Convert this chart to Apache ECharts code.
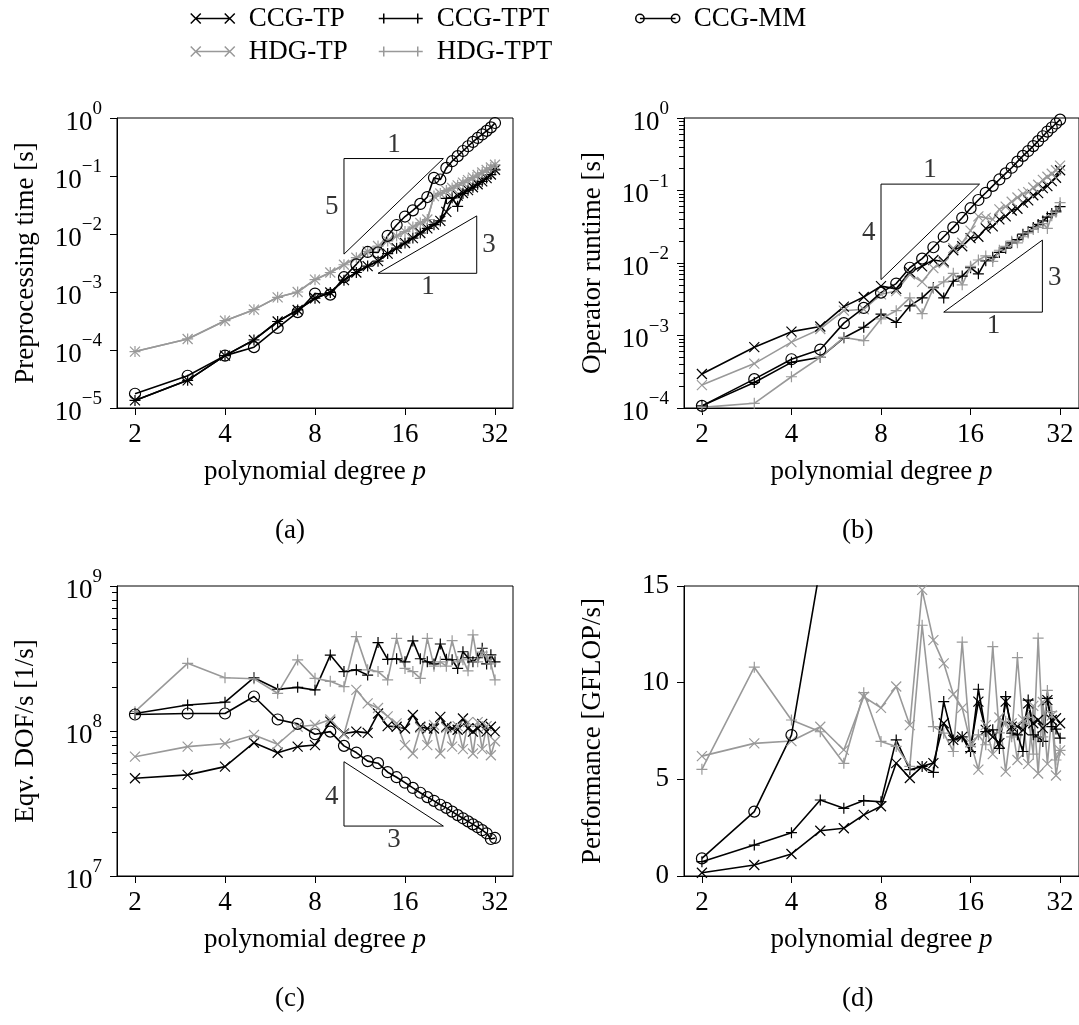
<!DOCTYPE html>
<html>
<head>
<meta charset="utf-8">
<title>Polynomial degree study</title>
<script src="https://cdn.jsdelivr.net/npm/echarts@6/dist/echarts.min.js"></script>
<style>
  html, body { margin: 0; padding: 0; background: #fff; }
  #chart { width: 1079px; height: 1025px; }
</style>
</head>
<body>
<div id="chart"></div>
<script>
// polynomial degrees on the x axis
var degrees = [2, 3, 4, 5, 6, 7, 8, 9, 10, 11, 12, 13, 14, 15, 16, 17, 18, 19, 20,
  21, 22, 23, 24, 25, 26, 27, 28, 29, 30, 31, 32];
var xTicks = [2, 4, 8, 16, 32];

// (a) preprocessing time [s]
var aCcgTp = [1.35e-5, 3.0e-5, 8.0e-5, 1.49e-4, 3.1e-4, 4.9e-4, 7.8e-4, 9.8e-4, 1.6e-3, 2.17e-3, 2.8e-3,
  3.4e-3, 4.6e-3, 5.7e-3, 7.0e-3, 8.5e-3, 1.04e-2, 1.25e-2, 1.45e-2, 1.68e-2, 2.4e-2, 4.0e-2, 4.6e-2,
  5.1e-2, 5.7e-2, 6.4e-2, 7.2e-2, 8.1e-2, 9.2e-2, 0.106, 0.128];
var aHdgTp = [9.4e-5, 1.55e-4, 3.2e-4, 4.96e-4, 8.1e-4, 1.0e-3, 1.63e-3, 2.17e-3, 2.95e-3, 3.9e-3, 5.0e-3,
  6.2e-3, 7.6e-3, 9.2e-3, 1.1e-2, 1.32e-2, 1.55e-2, 1.78e-2, 4.5e-2, 5.0e-2, 5.6e-2, 6.2e-2, 6.9e-2,
  7.7e-2, 8.5e-2, 9.4e-2, 0.104, 0.115, 0.127, 0.14, 0.156];
var aCcgTpt = [1.35e-5, 3.0e-5, 8.0e-5, 1.49e-4, 3.1e-4, 4.9e-4, 7.8e-4, 9.8e-4, 1.6e-3, 2.17e-3, 2.8e-3,
  3.4e-3, 4.6e-3, 5.7e-3, 7.0e-3, 8.5e-3, 1.04e-2, 1.25e-2, 1.45e-2, 1.68e-2, 4.1e-2, 4.2e-2, 3.0e-2,
  5.0e-2, 5.7e-2, 6.4e-2, 7.2e-2, 8.1e-2, 9.2e-2, 0.106, 0.128];
var aHdgTpt = [9.4e-5, 1.55e-4, 3.2e-4, 4.96e-4, 8.1e-4, 1.0e-3, 1.63e-3, 2.17e-3, 2.95e-3, 3.9e-3, 5.0e-3,
  6.2e-3, 7.6e-3, 9.2e-3, 1.1e-2, 1.32e-2, 1.55e-2, 1.78e-2, 4.5e-2, 5.0e-2, 5.6e-2, 6.2e-2, 6.9e-2,
  7.7e-2, 8.5e-2, 9.4e-2, 0.104, 0.115, 0.127, 0.14, 0.156];
var aCcgMm = [1.76e-5, 3.6e-5, 8.0e-5, 1.12e-4, 2.4e-4, 4.5e-4, 9.4e-4, 9.0e-4, 1.8e-3, 3.0e-3, 4.9e-3,
  4.8e-3, 9.3e-3, 1.43e-2, 2.0e-2, 2.56e-2, 3.3e-2, 4.34e-2, 9.3e-2, 8.7e-2, 0.138, 0.18, 0.22,
  0.27, 0.326, 0.387, 0.453, 0.52, 0.6, 0.69, 0.82];

// (b) operator runtime [s]
var bCcgTp = [2.94e-4, 6.9e-4, 1.13e-3, 1.33e-3, 2.5e-3, 3.4e-3, 4.8e-3, 4.4e-3, 7.5e-3, 9.0e-3, 1.1e-2,
  1.05e-2, 1.5e-2, 1.7e-2, 2.2e-2, 2.3e-2, 3.0e-2, 3.2e-2, 4.0e-2, 4.4e-2, 5.3e-2, 5.6e-2, 6.8e-2,
  7.3e-2, 8.6e-2, 9.2e-2, 0.108, 0.115, 0.135, 0.15, 0.19];
var bHdgTp = [2.07e-4, 4.1e-4, 8.1e-4, 1.23e-3, 2.2e-3, 2.3e-3, 3.7e-3, 4.1e-3, 7.0e-3, 5.5e-3, 8.5e-3,
  1.0e-2, 1.6e-2, 1.9e-2, 2.8e-2, 4.4e-2, 4.2e-2, 4.0e-2, 5.5e-2, 6.0e-2, 7.0e-2, 8.0e-2, 9.0e-2,
  9.5e-2, 0.11, 0.12, 0.14, 0.155, 0.17, 0.19, 0.22];
var bCcgTpt = [1.07e-4, 2.25e-4, 4.26e-4, 5.0e-4, 9.3e-4, 1.3e-3, 1.97e-3, 1.51e-3, 2.56e-3, 3.3e-3, 4.6e-3,
  3.3e-3, 5.6e-3, 6.6e-3, 8.6e-3, 7.1e-3, 1.07e-2, 1.2e-2, 1.4e-2, 1.6e-2, 1.9e-2, 2.1e-2, 2.5e-2,
  2.7e-2, 3.1e-2, 3.4e-2, 3.8e-2, 4.3e-2, 4.8e-2, 5.2e-2, 6.0e-2];
var bHdgTpt = [1.02e-4, 1.16e-4, 2.7e-4, 5.0e-4, 9.4e-4, 8.5e-4, 1.7e-3, 2.2e-3, 3.3e-3, 2.0e-3, 4.5e-3,
  5.5e-3, 7.2e-3, 5.0e-3, 9.0e-3, 1.1e-2, 1.25e-2, 1.05e-2, 1.5e-2, 1.7e-2, 2.0e-2, 1.9e-2, 2.3e-2,
  2.6e-2, 2.9e-2, 3.1e-2, 3.5e-2, 3.0e-2, 4.5e-2, 5.0e-2, 6.8e-2];
var bCcgMm = [1.07e-4, 2.5e-4, 4.7e-4, 6.4e-4, 1.48e-3, 2.4e-3, 3.9e-3, 5.2e-3, 8.6e-3, 1.15e-2, 1.65e-2,
  2.3e-2, 3.1e-2, 4.2e-2, 5.7e-2, 7.4e-2, 9.3e-2, 0.116, 0.142, 0.172, 0.206, 0.25, 0.30,
  0.35, 0.41, 0.48, 0.56, 0.65, 0.74, 0.84, 0.95];

// (c) equivalent DOF/s [1/s]
var cCcgTp = [4.72e7, 4.98e7, 5.68e7, 8.3e7, 7.08e7, 7.8e7, 8.0e7, 1.16e8, 9.6e7, 9.9e7, 9.7e7,
  1.32e8, 1.08e8, 1.07e8, 1.04e8, 1.29e8, 1.07e8, 1.04e8, 1.04e8, 1.25e8, 1.07e8, 1.04e8, 1.02e8,
  1.22e8, 1.04e8, 9.9e7, 1.04e8, 1.12e8, 9.9e7, 1.07e8, 9.9e7];
var cHdgTp = [6.65e7, 7.8e7, 8.2e7, 9.4e7, 8.1e7, 1.07e8, 1.1e8, 1.2e8, 9.5e7, 1.92e8, 1.55e8,
  1.44e8, 1.26e8, 1.13e8, 8.0e7, 7.0e7, 1.05e8, 8.0e7, 1.1e8, 7.0e7, 1.05e8, 7.8e7, 1.08e8,
  7.5e7, 1.15e8, 7.0e7, 1.15e8, 7.5e7, 1.08e8, 6.8e7, 8.5e7];
var cCcgTpt = [1.32e8, 1.51e8, 1.58e8, 2.33e8, 1.94e8, 2.0e8, 1.92e8, 3.34e8, 2.57e8, 2.64e8, 2.43e8,
  4.07e8, 3.12e8, 3.15e8, 3.0e8, 4.18e8, 3.15e8, 3.0e8, 2.9e8, 3.98e8, 3.12e8, 3.1e8, 2.7e8,
  3.52e8, 3.2e8, 3.0e8, 3.2e8, 3.72e8, 2.9e8, 3.35e8, 3.0e8];
var cHdgTpt = [1.36e8, 2.93e8, 2.33e8, 2.29e8, 1.82e8, 3.09e8, 2.31e8, 2.2e8, 2.02e8, 4.47e8, 2.64e8,
  2.57e8, 2.25e8, 4.35e8, 2.7e8, 2.57e8, 2.31e8, 4.35e8, 2.8e8, 3.0e8, 2.8e8, 4.2e8, 3.0e8,
  3.1e8, 2.6e8, 4.6e8, 3.0e8, 3.5e8, 3.3e8, 2.9e8, 2.25e8];
var cCcgMm = [1.30e8, 1.32e8, 1.32e8, 1.73e8, 1.2e8, 1.12e8, 9.5e7, 9.9e7, 7.9e7, 7.1e7, 6.2e7,
  6.0e7, 5.2e7, 4.8e7, 4.4e7, 4.05e7, 3.75e7, 3.5e7, 3.3e7, 3.1e7, 2.95e7, 2.78e7, 2.63e7,
  2.5e7, 2.38e7, 2.27e7, 2.17e7, 2.07e7, 1.97e7, 1.8e7, 1.83e7];

// (d) performance [GFLOP/s]
var dCcgTp = [0.17, 0.57, 1.14, 2.34, 2.47, 3.16, 3.61, 5.84, 5.07, 5.67, 5.84, 7.9, 7.04, 7.2, 6.6,
  9.02, 7.56, 7.2, 6.87, 9.02, 7.73, 7.73, 7.56, 8.93, 7.9, 8.07, 7.65, 9.1, 8.07, 8.16, 7.9];
var dHdgTp = [6.2, 6.86, 6.98, 7.72, 6.52, 9.27, 8.7, 9.8, 7.8, 14.8, 12.2, 11.0, 9.4, 8.7, 6.9,
  5.5, 7.8, 6.3, 8.2, 5.4, 7.9, 6.0, 8.1, 5.8, 8.8, 5.3, 9.0, 5.8, 8.3, 5.2, 6.5];
var dCcgTpt = [0.74, 1.6, 2.24, 3.93, 3.5, 3.9, 3.84, 7.04, 5.5, 5.67, 5.36, 9.02, 7.04, 7.2, 6.44,
  9.66, 7.47, 7.56, 6.6, 9.28, 7.39, 7.3, 6.44, 9.1, 7.3, 7.2, 6.96, 9.19, 7.73, 7.6, 7.13];
var dHdgTpt = [5.52, 10.8, 8.07, 7.46, 5.83, 9.48, 6.96, 6.7, 5.67, 12.97, 7.73, 7.39, 6.44, 12.1, 6.7,
  7.3, 6.79, 11.86, 7.4, 8.0, 7.2, 11.3, 7.9, 8.2, 6.3, 12.3, 7.2, 9.6, 8.5, 6.0, 6.5];
var dCcgMm = [0.91, 3.33, 7.29, 16.0];

// slope triangles (corner points in data units) and their labels
var triA1 = [[10, 0.0045], [10, 0.2], [21.5, 0.2], [10, 0.0045]];
var triA2 = [[13, 0.0021], [27.8, 0.0021], [27.8, 0.0205], [13, 0.0021]];
var triB1 = [[8, 0.0059], [8, 0.1225], [17.15, 0.1225], [8, 0.0059]];
var triB2 = [[13, 0.0021], [27.9, 0.0021], [27.9, 0.0207], [13, 0.0021]];
var triC = [[10, 6.14e7], [10, 2.21e7], [21.5, 2.21e7], [10, 6.14e7]];
var triLabelsA = [[14.7, 0.2, '1', 'top'], [10, 0.029, '5', 'left'], [27.8, 0.0065, '3', 'right'], [19.1, 0.0021, '1', 'bottom']];
var triLabelsB = [[11.7, 0.1225, '1', 'top'], [8, 0.0257, '4', 'left'], [27.9, 0.0063, '3', 'right'], [19.1, 0.0021, '1', 'bottom']];
var triLabelsC = [[10, 3.5e7, '4', 'left'], [14.7, 2.21e7, '3', 'bottom']];

var FONT = 'Liberation Serif';
var FS = 27;
var GRAY = '#999999';
var X_PATH = 'path://M0,0L10,10M0,10L10,0';
var PLUS_PATH = 'path://M5,0L5,10M0,5L10,5';
var X_ICON = 'path://M0,0L10,10M0,10L10,0M5,5L39,5M34,0L44,10M34,10L44,0';
var PLUS_ICON = 'path://M5,0L5,10M0,5L44,5M39,0L39,10';
var MM_ICON = 'path://M1,5A4,4,0,1,1,9,5A4,4,0,1,1,1,5ZM5,5L39,5M35,5A4,4,0,1,1,43,5A4,4,0,1,1,35,5Z';

var seriesDefs = [
  {name: 'CCG-TP', color: '#000', symbol: X_PATH, size: 10, icon: X_ICON},
  {name: 'HDG-TP', color: GRAY, symbol: X_PATH, size: 10, icon: X_ICON},
  {name: 'CCG-TPT', color: '#000', symbol: PLUS_PATH, size: 11, icon: PLUS_ICON},
  {name: 'HDG-TPT', color: GRAY, symbol: PLUS_PATH, size: 11, icon: PLUS_ICON},
  {name: 'CCG-MM', color: '#000', symbol: 'circle', size: 11, icon: MM_ICON}
];
var panels = [
  [aCcgTp, aHdgTp, aCcgTpt, aHdgTpt, aCcgMm],
  [bCcgTp, bHdgTp, bCcgTpt, bHdgTpt, bCcgMm],
  [cCcgTp, cHdgTp, cCcgTpt, cHdgTpt, cCcgMm],
  [dCcgTp, dHdgTp, dCcgTpt, dHdgTpt, dCcgMm]
];

function pairs(arr) {
  return arr.map(function (v, i) { return [degrees[i], v]; });
}

function powLabel(v) {
  var n = Math.round(Math.log10(v));
  return '{b|10}{s|' + (n < 0 ? '\u2212' + (-n) : n) + '}';
}
var powRich = {
  b: {fontFamily: FONT, fontSize: FS, color: '#000', lineHeight: 36, verticalAlign: 'bottom'},
  s: {fontFamily: FONT, fontSize: 19, color: '#000', lineHeight: 18, verticalAlign: 'top'}
};

function decadeMinors(lo, hi) {
  var out = [];
  for (var e = lo; e < hi; e++) {
    for (var k = 2; k <= 9; k++) out.push(k * Math.pow(10, e));
  }
  return out;
}

var textBase = {fontFamily: FONT, fontSize: FS, color: '#000'};

function xAxisFor(gi, max) {
  return {
    type: 'log', logBase: 2, gridIndex: gi, min: Math.pow(2, 0.8), max: max,
    name: 'polynomial degree {i|p}', nameLocation: 'middle', nameGap: 50,
    nameTextStyle: {fontFamily: FONT, fontSize: FS, color: '#000',
      rich: {i: {fontFamily: FONT, fontSize: FS, fontStyle: 'italic', color: '#000'}}},
    axisLine: {show: true, lineStyle: {color: '#000', width: 1}},
    axisTick: {show: true, length: 7, lineStyle: {color: '#000'}, customValues: xTicks},
    axisLabel: {fontFamily: FONT, fontSize: FS, color: '#000', margin: 13, customValues: xTicks,
      formatter: function (v) { return String(Math.round(v)); }},
    splitLine: {show: false}
  };
}

function yLogAxis(gi, lo, hi, name) {
  var ticks = [];
  for (var e = lo; e <= hi; e++) ticks.push(Math.pow(10, e));
  return {
    type: 'log', logBase: 10, gridIndex: gi, min: Math.pow(10, lo), max: Math.pow(10, hi),
    name: name, nameLocation: 'middle', nameGap: 78, nameRotate: 90, nameTextStyle: textBase,
    axisLine: {show: true, lineStyle: {color: '#000', width: 1}},
    axisTick: {show: true, length: 7, lineStyle: {color: '#000'}, customValues: ticks},
    axisLabel: {margin: 15, customValues: ticks, formatter: powLabel, rich: powRich},
    splitLine: {show: false}
  };
}

// minor ticks live on an overlay grid that has only this one y axis
function xHiddenAxis(gi) {
  return {type: 'log', logBase: 2, gridIndex: gi, min: 2, max: 32, show: false};
}
function yMinorAxis(gi, lo, hi) {
  return {
    type: 'log', logBase: 10, gridIndex: gi, min: Math.pow(10, lo), max: Math.pow(10, hi),
    axisLine: {show: false},
    axisTick: {show: true, length: 5, lineStyle: {color: '#000'}, customValues: decadeMinors(lo, hi)},
    axisLabel: {show: false},
    splitLine: {show: false}
  };
}

var series = [];
panels.forEach(function (list, gi) {
  list.forEach(function (arr, si) {
    var d = seriesDefs[si];
    series.push({
      type: 'line', name: d.name, xAxisIndex: gi, yAxisIndex: gi,
      data: pairs(arr), symbol: d.symbol, symbolSize: d.size, showSymbol: true,
      lineStyle: {color: d.color, width: 1.6},
      itemStyle: {color: 'transparent', borderColor: d.color, borderWidth: 1.2},
      emphasis: {disabled: true}, animation: false, clip: true
    });
  });
});

function triangle(data, gi) {
  return {
    type: 'line', name: 'slope', xAxisIndex: gi, yAxisIndex: gi, data: data,
    symbol: 'none', lineStyle: {color: '#000', width: 1}, silent: true, animation: false
  };
}
function triLabels(list, gi) {
  return {
    type: 'scatter', name: 'slope label', xAxisIndex: gi, yAxisIndex: gi, symbolSize: 1,
    itemStyle: {color: 'transparent'}, silent: true, animation: false,
    data: list.map(function (t) {
      var vertical = t[3] === 'top' || t[3] === 'bottom';
      return {value: [t[0], t[1]], label: {show: true, formatter: t[2], position: t[3],
        distance: vertical ? 0 : 5, fontFamily: FONT, fontSize: FS, color: '#000'}};
    })
  };
}
series.push(triangle(triA1, 0), triangle(triA2, 0), triLabels(triLabelsA, 0));
series.push(triangle(triB1, 1), triangle(triB2, 1), triLabels(triLabelsB, 1));
series.push(triangle(triC, 2), triLabels(triLabelsC, 2));

function legendFor(def, left, top) {
  return {
    left: left, top: top, padding: 0, itemWidth: 44, itemHeight: 10, selectedMode: false,
    textStyle: {fontFamily: FONT, fontSize: FS, color: '#000', padding: [0, 0, 0, 9]},
    data: [{name: def.name, icon: def.icon,
      itemStyle: {color: 'transparent', borderColor: def.color, borderWidth: 1.5}}]
  };
}

var gridBase = {show: true, borderColor: '#000', borderWidth: 1, backgroundColor: 'transparent'};
var xMaxLeft = Math.pow(2, 5.2);
var xMaxRight = Math.pow(2, 1 + 379 / 90);

var option = {
  animation: false,
  backgroundColor: '#fff',
  grid: [
    Object.assign({left: 117, top: 118, width: 396, height: 290}, gridBase),
    Object.assign({left: 684, top: 118, width: 397, height: 290}, gridBase),
    Object.assign({left: 117, top: 586, width: 396, height: 290}, gridBase),
    Object.assign({left: 684, top: 586, width: 397, height: 290}, gridBase),
    {left: 684, top: 118, width: 397, height: 290, show: false},
    {left: 117, top: 586, width: 396, height: 290, show: false}
  ],
  legend: [
    legendFor(seriesDefs[0], 190, 5),
    legendFor(seriesDefs[1], 190, 38),
    legendFor(seriesDefs[2], 378, 5),
    legendFor(seriesDefs[3], 378, 38),
    legendFor(seriesDefs[4], 635, 5)
  ],
  xAxis: [xAxisFor(0, xMaxLeft), xAxisFor(1, xMaxRight), xAxisFor(2, xMaxLeft), xAxisFor(3, xMaxRight),
    xHiddenAxis(4), xHiddenAxis(5)],
  yAxis: [
    yLogAxis(0, -5, 0, 'Preprocessing time [s]'),
    yLogAxis(1, -4, 0, 'Operator runtime [s]'),
    yLogAxis(2, 7, 9, 'Eqv. DOF/s [1/s]'),
    {
      type: 'value', gridIndex: 3, min: 0, max: 15, interval: 5,
      name: 'Performance [GFLOP/s]', nameLocation: 'middle', nameGap: 78, nameRotate: 90, nameTextStyle: textBase,
      axisLine: {show: true, lineStyle: {color: '#000', width: 1}},
      axisTick: {show: true, length: 7, lineStyle: {color: '#000'}},
      axisLabel: {fontFamily: FONT, fontSize: FS, color: '#000', margin: 15},
      splitLine: {show: false}
    },
    yMinorAxis(4, -4, 0),
    yMinorAxis(5, 7, 9)
  ],
  graphic: [
    {type: 'text', left: 275, top: 517, style: {text: '(a)', font: FS + 'px "' + FONT + '"', fill: '#000'}},
    {type: 'text', left: 842, top: 517, style: {text: '(b)', font: FS + 'px "' + FONT + '"', fill: '#000'}},
    {type: 'text', left: 275, top: 985, style: {text: '(c)', font: FS + 'px "' + FONT + '"', fill: '#000'}},
    {type: 'text', left: 842, top: 985, style: {text: '(d)', font: FS + 'px "' + FONT + '"', fill: '#000'}}
  ],
  series: series
};

var myChart = echarts.init(document.getElementById('chart'));
myChart.setOption(option);
window.addEventListener('resize', function () { myChart.resize(); });
</script>
</body>
</html>
